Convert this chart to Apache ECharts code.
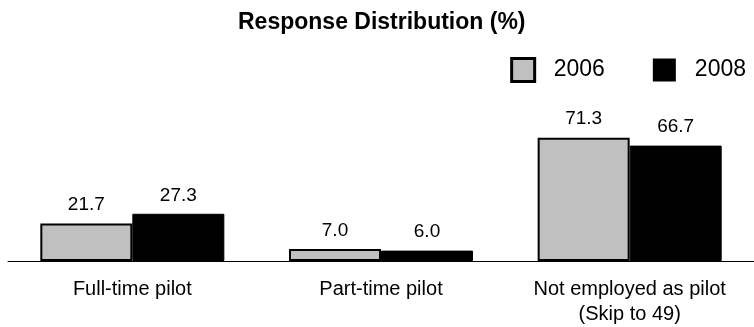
<!DOCTYPE html>
<html>
<head>
<meta charset="utf-8">
<script src="https://cdn.jsdelivr.net/npm/echarts@6/dist/echarts.min.js"></script>
<style>
  html, body { margin: 0; padding: 0; background: #fff; }
  #chart { width: 754px; height: 327px; }
</style>
</head>
<body>
<div id="chart"></div>
<script>
const categories = ["Full-time pilot", "Part-time pilot", "Not employed as pilot\n(Skip to 49)"];
const values2006 = [21.7, 7.0, 71.3];
const values2008 = [27.3, 6.0, 66.7];

const chart = echarts.init(document.getElementById("chart"));
const labelStyle = {
  show: true,
  position: "top",
  distance: 9,
  fontFamily: "Liberation Sans",
  fontSize: 19,
  color: "#000",
  formatter: (p) => p.value.toFixed(1),
};

chart.setOption({
  backgroundColor: "#fff",
  animation: false,
  title: {
    text: "Response Distribution (%)",
    left: 233,
    top: 6,
    textStyle: {
      fontFamily: "Liberation Sans",
      fontWeight: "bold",
      fontSize: 23,
      color: "#000",
    },
  },
  legend: {
    right: 3,
    top: 52,
    itemWidth: 23,
    itemHeight: 23,
    itemGap: 48,
    icon: "rect",
    textStyle: {
      fontFamily: "Liberation Sans",
      fontSize: 23,
      color: "#000",
      padding: [0, 0, 0, 14],
    },
    data: [
      { name: "2006", itemStyle: { color: "#c0c0c0", borderColor: "#000", borderWidth: 3 } },
      { name: "2008", itemStyle: { color: "#000", borderColor: "#000", borderWidth: 0 } },
    ],
  },
  grid: {
    left: 8,
    right: 0,
    top: 88,
    bottom: 64,
  },
  xAxis: {
    type: "category",
    data: categories,
    axisLine: { lineStyle: { color: "#000", width: 1 } },
    axisTick: { show: false },
    axisLabel: {
      interval: 0,
      fontFamily: "Liberation Sans",
      fontSize: 20,
      color: "#000",
      margin: 16,
      lineHeight: 25,
    },
  },
  yAxis: {
    type: "value",
    min: 0,
    max: 100,
    show: false,
  },
  series: [
    {
      name: "2006",
      type: "bar",
      data: values2006,
      barGap: "0%",
      barCategoryGap: "26%",
      itemStyle: { color: "#c0c0c0", borderColor: "#000", borderWidth: 2 },
      label: labelStyle,
    },
    {
      name: "2008",
      type: "bar",
      data: values2008,
      itemStyle: { color: "#000", borderColor: "#000", borderWidth: 1 },
      label: labelStyle,
    },
  ],
});
</script>
</body>
</html>
